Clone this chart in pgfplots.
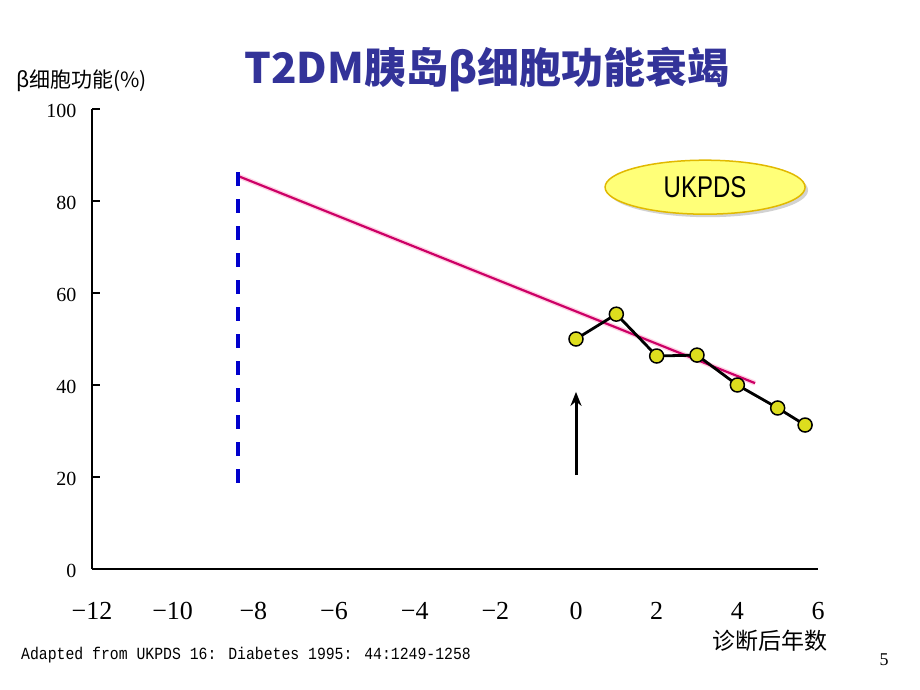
\documentclass[border=0pt]{standalone}
\usepackage{fontspec}
\setmainfont{Liberation Serif}
\newfontfamily\cjk{Noto Sans CJK SC}
\newfontfamily\narrowfont[FakeStretch=0.8]{Liberation Sans}
\newfontfamily\monofont[FakeStretch=0.87]{Liberation Mono}
\usepackage{pgfplots}
\pgfplotsset{compat=1.18}
\usetikzlibrary{shadows,shapes.geometric,arrows.meta}
\definecolor{titleblue}{RGB}{51,51,153}
\definecolor{trendpink}{RGB}{204,0,102}
\definecolor{glowpink}{RGB}{255,180,210}
\definecolor{dashblue}{RGB}{0,0,204}
\definecolor{dotyellow}{RGB}{221,221,30}
\definecolor{ellfill}{RGB}{255,255,120}
\definecolor{elldraw}{RGB}{225,185,0}
\begin{document}
\begin{tikzpicture}[x=1pt,y=1pt]
\path[use as bounding box] (0,0) rectangle (920,690);
\begin{axis}[
  at={(92pt,121pt)}, anchor=south west,
  scale only axis, width=726pt, height=460pt,
  xmin=-12, xmax=6, ymin=0, ymax=100,
  axis lines=left,
  axis line style={-, line width=2pt},
  xtick={-12,-10,...,6},
  xticklabels={−12,−10,−8,−6,−4,−2,0,2,4,6},
  ytick={0,20,...,100},
  yticklabels={0,20,40,60,80,100},
  tick align=inside,
  major tick length=8pt,
  tick style={black, line width=1.5pt},
  x tick style={draw=none},
  x tick label style={font=\fontsize{26}{26}\selectfont, yshift=-30pt},
  y tick label style={font=\fontsize{20}{20}\selectfont, xshift=-12pt, yshift=-2pt},
  clip=false,
]
\addplot[draw=glowpink, line width=5pt, opacity=0.6] coordinates {(-8.37,85.4)(4.44,40.4)};
\addplot[draw=trendpink, line width=2.2pt] coordinates {(-8.37,85.4)(4.44,40.4)};
\addplot[draw=dashblue, line width=4pt, dash pattern=on 14pt off 13pt] coordinates {(-8.37,86.3)(-8.37,18.7)};
\addplot[black, line width=2.8pt, mark=*, mark size=7pt,
  mark options={fill=dotyellow, draw=black, line width=1.5pt}]
  coordinates {(0,50)(1,55.4)(2,46.3)(3,46.5)(4,40)(5,35)(5.68,31.3)};
\addplot[black, line width=3pt, -{Stealth[length=14pt,width=11pt]}] coordinates {(0,20.4)(0,38.5)};
\node[ellipse, draw=elldraw, line width=1.5pt, fill=ellfill, minimum width=200pt, minimum height=54pt,
  drop shadow={shadow xshift=3pt, shadow yshift=-3pt, fill=black!35}, inner sep=0pt,
  font=\narrowfont\fontsize{30}{30}\selectfont] at (axis cs:3.2,83) {UKPDS};
\end{axis}
\node[font=\cjk\bfseries\fontsize{42}{42}\selectfont, text=titleblue] at (487,620) {T2DM胰岛β细胞功能衰竭};
\node[font=\cjk\fontsize{21}{21}\selectfont, anchor=west, inner sep=0pt] at (16,609) {β细胞功能(\%)};
\node[font=\cjk\fontsize{23}{23}\selectfont] at (770,49) {诊断后年数};
\node[font=\monofont\fontsize{17}{17}\selectfont, anchor=west, inner sep=0pt] at (21,35) {Adapted from UKPDS 16: Diabetes 1995: 44:1249-1258};
\node[font=\fontsize{18}{18}\selectfont] at (884,30) {5};
\end{tikzpicture}
\end{document}
